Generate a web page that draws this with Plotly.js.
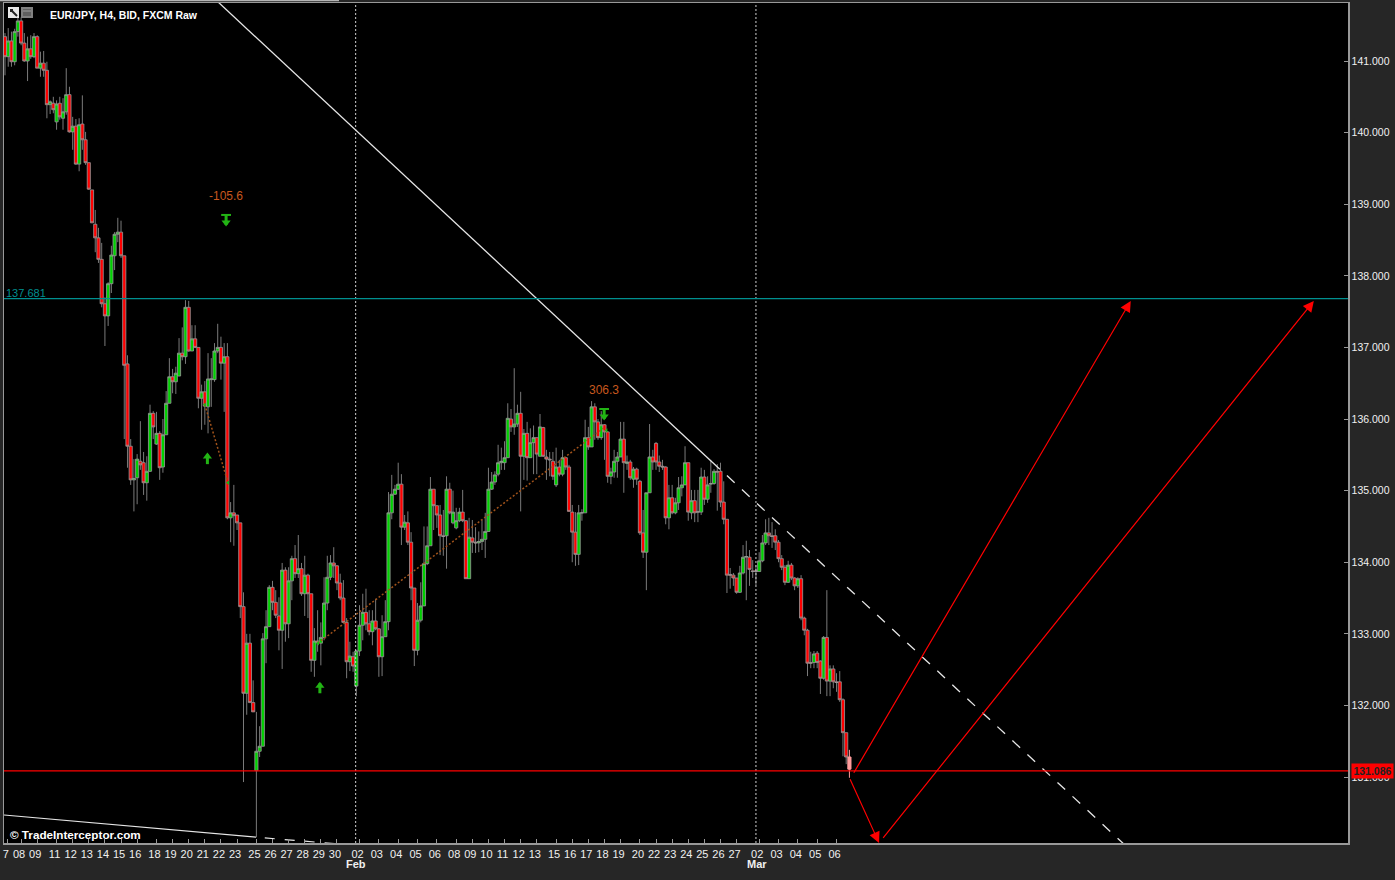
<!DOCTYPE html>
<html>
<head>
<meta charset="utf-8">
<script src="https://cdn.plot.ly/plotly-3.0.1.min.js"></script>
<style>
html,body{margin:0;padding:0;background:#262626;overflow:hidden}
</style>
</head>
<body>
<div id="chart" style="width:1395px;height:880px"></div>
<script>
// EUR/JPY H4 bars
var opens = [
141.34,141.06,141.28,140.99,141.41,141.56,141.25,141.00,141.17,141.06,
141.34,140.90,140.97,140.87,140.39,140.41,140.15,140.41,140.20,140.29,
140.53,140.01,140.09,139.56,140.12,139.90,139.58,139.20,138.72,138.53,
138.23,137.61,137.44,137.89,138.28,138.58,138.61,138.28,136.77,135.62,
135.15,135.18,135.41,135.39,135.11,135.27,136.08,135.65,135.80,135.33,
135.78,136.22,136.59,136.52,136.60,136.92,136.87,137.56,136.95,137.12,
137.00,136.29,136.38,136.17,136.55,136.55,136.95,137.00,136.78,136.87,
134.62,134.69,134.66,134.55,133.38,132.17,132.87,132.04,131.09,131.36,
131.43,132.93,133.10,133.65,133.44,133.25,133.05,133.89,133.14,133.74,
134.05,133.84,133.91,133.56,133.82,133.56,132.63,132.90,132.87,132.95,
133.43,133.79,133.99,133.95,133.71,133.50,133.16,132.61,132.68,132.27,
132.76,133.12,133.30,133.14,133.03,133.18,133.07,132.68,132.96,133.17,
134.69,134.95,135.02,135.09,134.49,134.55,134.28,133.64,132.77,133.19,
133.39,133.98,134.23,135.02,134.79,134.66,134.37,134.37,135.02,134.55,
134.48,134.58,134.70,134.58,133.77,134.34,134.28,134.27,134.29,134.32,
134.43,135.02,135.12,135.23,135.39,135.39,135.46,136.00,135.89,135.93,
136.08,135.48,135.80,135.46,135.67,135.74,135.48,135.88,135.47,135.44,
135.41,135.08,135.33,135.23,135.46,135.33,134.70,134.42,134.11,134.69,
134.69,135.74,135.61,136.17,135.96,135.74,135.92,135.82,135.20,135.26,
135.41,135.47,135.72,135.38,135.40,135.16,135.30,135.13,134.41,134.14,
134.97,135.47,135.66,135.40,135.34,135.33,134.62,134.90,134.69,134.83,
135.04,135.08,135.39,134.69,134.86,134.71,134.70,135.19,134.88,135.09,
135.10,135.27,135.27,134.84,134.60,133.83,133.82,133.78,133.58,133.85,
134.07,134.07,133.88,133.88,133.87,134.02,134.27,134.41,134.37,134.37,
134.28,134.05,133.93,133.72,133.96,133.78,133.67,133.77,133.22,133.05,
132.60,132.60,132.73,132.62,132.38,132.95,132.34,132.51,132.33,132.33,
132.08,131.62,131.28];
var highs = [
141.39,141.46,141.41,141.45,141.60,141.61,141.39,141.34,141.36,141.39,
141.36,141.13,141.14,140.99,140.45,140.50,140.45,140.50,140.48,140.90,
140.64,140.22,140.19,140.20,140.52,140.01,139.58,139.20,138.92,138.67,
138.46,137.70,137.91,138.42,138.61,138.81,138.77,138.28,136.89,135.72,
135.44,135.51,135.97,135.54,135.48,136.20,136.11,136.10,135.83,136.00,
136.39,136.85,136.70,136.73,137.13,137.28,137.66,137.65,137.31,137.31,
137.00,136.48,136.53,136.92,136.85,137.06,137.33,137.15,137.06,137.06,
134.84,135.08,134.66,134.55,133.58,133.00,133.00,132.35,131.91,131.71,
133.01,133.33,133.68,133.74,133.61,133.51,133.99,133.93,133.93,134.09,
134.24,134.38,133.99,134.09,133.84,133.56,133.08,133.33,133.16,133.79,
134.09,134.10,134.21,133.96,133.84,133.75,133.22,132.89,132.75,132.77,
133.40,133.56,133.63,133.33,133.33,133.49,133.08,133.26,133.47,134.98,
135.22,135.08,135.39,135.23,134.66,134.71,134.42,133.64,133.43,133.72,
134.50,134.50,135.19,135.02,134.79,134.80,134.73,135.20,135.11,135.00,
134.76,134.76,135.01,134.59,134.62,134.59,134.49,134.43,134.59,134.69,
135.32,135.26,135.27,135.64,135.60,135.69,136.22,136.14,136.71,136.20,
136.38,135.86,135.96,135.87,135.91,135.74,136.07,135.89,135.57,135.54,
135.54,135.60,135.43,135.57,135.47,135.36,134.80,134.70,134.80,134.74,
135.99,135.89,136.25,136.22,136.00,136.11,135.93,135.83,135.32,135.57,
135.54,135.96,135.96,135.49,135.43,135.33,135.32,135.15,134.73,134.97,
135.93,135.57,135.68,135.49,135.43,135.34,135.08,135.08,134.90,135.19,
135.20,135.62,135.39,135.01,135.01,135.01,135.32,135.29,135.20,135.43,
135.30,135.37,135.39,135.13,134.60,133.92,133.85,133.78,133.95,134.24,
134.30,134.17,134.03,133.96,134.14,134.38,134.60,134.62,134.56,134.46,
134.31,134.10,133.96,134.02,133.99,133.79,133.79,133.82,133.24,133.07,
132.75,132.76,132.76,132.63,132.97,133.61,132.56,132.56,132.45,132.48,
132.10,131.62,131.38];
var lows = [
140.80,140.92,140.92,140.94,141.34,141.22,140.99,140.72,141.03,141.04,
140.90,140.78,140.78,140.20,140.26,140.27,140.04,140.18,140.04,140.25,
140.00,139.76,139.55,139.46,139.76,139.55,139.20,138.74,138.33,138.18,
137.56,137.02,137.30,137.76,138.08,138.47,138.25,135.72,135.32,135.08,
134.71,134.81,135.29,134.94,134.86,135.26,135.72,135.64,135.15,135.25,
135.78,136.22,136.36,136.35,136.60,136.82,136.77,136.94,136.95,136.99,
136.15,135.85,135.92,135.80,136.17,136.52,136.92,136.55,136.10,134.60,
134.28,134.23,134.45,133.22,130.93,131.87,132.04,131.91,130.16,131.28,
131.43,132.59,133.10,133.33,133.22,132.77,132.51,132.89,132.94,133.47,
133.78,133.78,133.53,133.25,133.22,132.47,132.40,132.75,132.56,132.91,
133.33,133.75,133.78,133.61,133.47,133.16,132.38,132.48,132.47,132.13,
132.69,132.91,133.05,132.98,132.84,133.05,132.40,132.41,132.96,133.05,
134.60,134.94,135.01,134.24,134.45,134.24,133.47,132.55,132.70,133.16,
133.39,133.96,134.23,134.45,134.48,134.10,134.09,133.91,134.67,134.53,
134.46,134.56,134.56,133.77,133.77,134.13,134.13,134.14,134.17,134.06,
134.43,135.01,135.08,135.20,135.29,135.29,135.46,135.82,135.78,135.89,
134.71,135.15,135.14,135.46,135.23,135.23,135.48,135.47,135.15,135.20,
135.15,135.05,135.20,135.20,135.29,134.71,134.00,133.95,133.96,134.58,
134.69,135.57,135.61,135.71,135.71,135.71,135.43,135.11,135.09,135.18,
135.18,135.47,134.97,135.29,135.15,135.04,135.08,134.38,134.06,133.61,
134.97,135.29,135.29,135.26,135.29,134.53,134.46,134.67,134.67,134.73,
134.92,135.08,134.58,134.60,134.56,134.56,134.66,134.80,134.83,134.97,
135.08,134.72,134.77,134.53,133.57,133.63,133.67,133.56,133.57,133.83,
133.47,133.67,133.78,133.68,133.87,134.00,134.24,134.24,134.20,134.17,
134.00,133.89,133.68,133.71,133.75,133.61,133.64,133.19,132.98,132.41,
132.52,132.52,132.52,132.16,132.36,132.13,132.13,132.24,132.19,132.05,
131.29,131.18,130.99];
var closes = [
141.06,141.28,140.99,141.41,141.56,141.25,141.00,141.17,141.06,141.34,
140.90,140.97,140.87,140.39,140.43,140.32,140.40,140.22,140.29,140.53,
140.01,140.09,139.56,140.11,139.90,139.58,139.21,138.74,138.53,138.23,
137.61,137.44,137.89,138.29,138.58,138.61,138.28,136.75,135.62,135.15,
135.17,135.44,135.36,135.11,135.27,136.08,135.89,135.80,135.32,135.78,
136.22,136.59,136.52,136.64,136.92,136.87,137.56,136.95,137.12,137.00,
136.29,136.38,136.18,136.56,136.56,136.95,137.00,136.78,136.87,134.62,
134.69,134.65,134.55,133.38,132.17,132.87,132.04,131.91,131.36,131.43,
132.93,133.10,133.65,133.44,133.26,133.05,133.89,133.14,133.74,134.05,
133.84,133.91,133.56,133.82,133.56,132.63,132.90,132.88,132.95,133.43,
133.79,133.99,133.95,133.71,133.50,133.16,132.61,132.69,132.55,132.76,
133.12,133.30,133.14,133.03,133.18,133.07,132.68,132.96,133.17,134.69,
134.95,135.02,135.09,134.49,134.56,134.28,133.64,132.77,133.19,133.39,
133.98,134.23,135.02,134.79,134.66,134.37,134.36,135.02,134.69,134.70,
134.58,134.70,134.58,133.77,134.35,134.28,134.27,134.29,134.32,134.43,
135.02,135.12,135.22,135.39,135.41,135.46,136.01,135.89,135.93,136.08,
135.48,135.80,135.46,135.67,135.74,135.51,135.89,135.48,135.44,135.43,
135.20,135.33,135.23,135.46,135.33,134.71,134.42,134.11,134.69,134.69,
135.74,135.61,136.17,135.96,135.74,135.92,135.82,135.20,135.26,135.41,
135.47,135.72,135.39,135.40,135.18,135.30,135.16,134.41,134.14,134.97,
135.47,135.40,135.40,135.34,135.33,134.62,134.90,134.69,134.83,135.04,
135.08,135.39,134.70,134.86,134.69,134.70,135.19,134.88,135.08,135.10,
135.27,135.26,134.84,134.60,133.82,133.82,133.78,133.58,133.85,134.07,
134.08,133.90,133.87,133.87,134.02,134.27,134.41,134.37,134.36,134.28,
134.05,133.93,133.72,133.96,133.78,133.67,133.77,133.22,133.05,132.59,
132.59,132.72,132.60,132.38,132.95,132.34,132.51,132.33,132.32,132.08,
131.62,131.28,131.11];

// day labels under the axis and the bar each one sits on
var dayLabels = ['7','08','09','11','12','13','14','15','16','18','19','20','21','22','23','25','26','27','28','29','30',
  '02','03','04','05','06','08','09','10','11','12','13','15','16','17','18','19','20','22','23','24','25','26','27',
  '02','03','04','05','06'];
var dayBars = [0.9,5,10,16,21,26,31,36,41,47,52,57,62,67,72,78,83,88,93,98,103,
  110,116,122,128,134,140,145,150,155,160,165,171,176,181,186,191,197,202,207,212,217,222,227,
  234,240,246,252,258];
var monthLabels = ['Feb','Mar'];
var monthBars = [109,233.3];
var priceTicks = [131,132,133,134,135,136,137,138,139,140,141];
var monthStarts = [108.8,233];

var resistance = 137.681;
var lastPrice = 131.086;

// trend lines, [bar, price]
var trendBars = [65.5,221.8];
var trendPrices = [141.85,135.30];
var trendDashBars = [224,347.5];
var trendDashPrices = [135.21,130.05];
var lowLineBars = [-0.3,77.9];
var lowLinePrices = [130.47,130.16];
var lowDashBars = [80.6,102.4];
var lowDashPrices = [130.15,130.07];

// dotted zigzag legs
var legBars = [62,69.2,null,97.1,186.2];
var legPrices = [136.20,135.11,null,132.87,135.89];
var legEndBars = [62,69.2,97.1,186.6];
var legEndPrices = [136.20,135.11,132.87,135.84];

// signal arrows
var upBars = [62.8,97.7];
var upTips = [135.51,132.31];
var upTails = [135.37,132.17];
var downBars = [68.6,185.9];
var downTips = [138.71,136.00];
var downTails = [138.85,136.14];

// forecast arrows: tail bar, tail price, head bar, head price
var projTailBars = [263.1,262,272.1];
var projTailPrices = [131.04,130.99,130.13];
var projHeadBars = [349.3,271.2,406.1];
var projHeadPrices = [137.65,130.08,137.65];

var GREEN = '#22b414', GRAY = '#999999';

function stemXY(xs, a, b) {
    var x = [], y = [];
    for (var i = 0; i < xs.length; i++) {
        x.push(xs[i], xs[i], null);
        y.push(a[i], b[i], null);
    }
    return {x: x, y: y};
}
var upStem = stemXY(upBars, upTips, upTails);
var downStem = stemXY(downBars, downTips, downTails);

var barIndex = opens.map(function (v, i) { return i; });
var n = opens.length - 1;

var data = [
  {
    type: 'candlestick', x: barIndex.slice(0, n), open: opens.slice(0, n), high: highs.slice(0, n),
    low: lows.slice(0, n), close: closes.slice(0, n), whiskerwidth: 0, hoverinfo: 'skip',
    increasing: {line: {color: GRAY, width: 0.8}, fillcolor: '#00d000'},
    decreasing: {line: {color: GRAY, width: 0.8}, fillcolor: '#ff0000'}
  },
  {
    // bar still forming is drawn pale
    type: 'candlestick', x: [n], open: [opens[n]], high: [highs[n]], low: [lows[n]], close: [closes[n]],
    whiskerwidth: 0, hoverinfo: 'skip',
    increasing: {line: {color: '#ff9c9c', width: 1}, fillcolor: '#ff9c9c'},
    decreasing: {line: {color: '#ff9c9c', width: 1}, fillcolor: '#ff9c9c'}
  },
  {type: 'scatter', mode: 'lines', x: legBars, y: legPrices, hoverinfo: 'skip',
    line: {color: '#a0521a', width: 1.5, dash: '2px,2px'}},
  {type: 'scatter', mode: 'markers', x: legEndBars, y: legEndPrices, hoverinfo: 'skip',
    marker: {symbol: 'triangle-left', size: 4, color: GREEN}},
  {type: 'scatter', mode: 'lines', x: trendBars, y: trendPrices, hoverinfo: 'skip',
    line: {color: '#e6e6e6', width: 1.3}},
  {type: 'scatter', mode: 'lines', x: trendDashBars, y: trendDashPrices, hoverinfo: 'skip',
    line: {color: '#e6e6e6', width: 1.3, dash: '10.5px,10px'}},
  {type: 'scatter', mode: 'lines', x: lowLineBars, y: lowLinePrices, hoverinfo: 'skip',
    line: {color: '#e6e6e6', width: 1.2}},
  {type: 'scatter', mode: 'lines', x: lowDashBars, y: lowDashPrices, hoverinfo: 'skip',
    line: {color: '#e6e6e6', width: 1.2, dash: '10px,10px'}},
  {type: 'scatter', mode: 'lines', x: upStem.x.concat(downStem.x), y: upStem.y.concat(downStem.y), hoverinfo: 'skip',
    line: {color: GREEN, width: 3}},
  {type: 'scatter', mode: 'markers', x: upBars, y: upTips.map(function (v) { return v - 0.035; }), hoverinfo: 'skip',
    marker: {symbol: 'triangle-up', size: 8, color: GREEN}},
  {type: 'scatter', mode: 'markers', x: downBars, y: downTips.map(function (v) { return v + 0.035; }), hoverinfo: 'skip',
    marker: {symbol: 'triangle-down', size: 8, color: GREEN}},
  {type: 'scatter', mode: 'markers', x: downBars, y: downTails, hoverinfo: 'skip',
    marker: {symbol: 'line-ew', size: 7, line: {color: GREEN, width: 2}}}
];

// pixels of the page to paper fractions, for the bits that sit on the frame
function px(x) { return (x - 4) / 1344; }
function py(y) { return (843 - y) / 840; }
function pageRect(x0, y0, x1, y1, fill) {
    return {type: 'rect', xref: 'paper', yref: 'paper', x0: px(x0), x1: px(x1), y0: py(y1), y1: py(y0),
        fillcolor: fill, line: {width: 0}};
}
function pageLine(x0, y0, x1, y1, color, w) {
    return {type: 'line', xref: 'paper', yref: 'paper', x0: px(x0), x1: px(x1), y0: py(y0), y1: py(y1),
        line: {color: color, width: w}};
}

var shapes = [
  {type: 'line', xref: 'x', yref: 'y', x0: monthStarts[0], x1: monthStarts[0], y0: 130.079, y1: 141.81,
    line: {color: '#d0d0d0', width: 1, dash: '2px,2px'}, layer: 'above'},
  {type: 'line', xref: 'x', yref: 'y', x0: monthStarts[1], x1: monthStarts[1], y0: 130.079, y1: 141.81,
    line: {color: '#d0d0d0', width: 1, dash: '2px,2px'}, layer: 'above'},
  {type: 'line', xref: 'paper', yref: 'y', x0: 0, x1: 1, y0: resistance, y1: resistance,
    line: {color: '#009090', width: 1.2}},
  {type: 'line', xref: 'paper', yref: 'y', x0: 0, x1: 1, y0: lastPrice, y1: lastPrice,
    line: {color: '#ff0000', width: 1.3}},
  // scroll thumb along the top edge
  pageRect(0, 0, 339, 1.3, '#b4b4b4'),
  // toolbar buttons
  pageRect(8, 7, 19, 18, '#e8e8e8'),
  pageLine(11, 10, 17, 16, '#222222', 2),
  pageRect(10, 9, 13, 12, '#222222'),
  pageRect(21, 7, 33, 18, '#808080'),
  pageRect(23, 9, 31, 16, '#606060'),
  pageLine(23, 11, 31, 11, '#a0a0a0', 1)
];

var annotations = [
  {xref: 'paper', yref: 'paper', x: px(47.5), y: py(15), xanchor: 'left', yanchor: 'middle', showarrow: false,
    text: '<b>EUR/JPY, H4, BID, FXCM Raw</b>', font: {family: 'Liberation Sans', size: 10.5, color: '#ffffff'}},
  {xref: 'paper', yref: 'paper', x: px(8), y: py(834), xanchor: 'left', yanchor: 'middle', showarrow: false,
    text: '<b>© TradeInterceptor.com</b>', font: {family: 'Liberation Sans', size: 11.7, color: '#ffffff'}},
  {xref: 'paper', yref: 'y', x: px(3.5), y: resistance, xanchor: 'left', yanchor: 'bottom', showarrow: false, yshift: -2,
    text: '137.681', font: {family: 'Liberation Sans', size: 11, color: '#009090'}},
  {xref: 'x', yref: 'y', x: 68.6, y: 139.12, showarrow: false, text: '-105.6',
    font: {family: 'Liberation Sans', size: 12, color: '#c8581e'}},
  {xref: 'x', yref: 'y', x: 185.8, y: 136.40, showarrow: false, text: '306.3',
    font: {family: 'Liberation Sans', size: 12, color: '#c8581e'}},
  {xref: 'paper', yref: 'y', x: px(1351), y: lastPrice, xanchor: 'left', yanchor: 'middle', showarrow: false,
    text: '<b>131.086</b>', width: 41, height: 14, borderpad: 0, bgcolor: '#ff0000',
    font: {family: 'Liberation Sans', size: 10.5, color: '#222222'}}
];
for (var m = 0; m < monthLabels.length; m++) {
    annotations.push({xref: 'x', yref: 'paper', x: monthBars[m], y: py(864), showarrow: false, yanchor: 'middle',
        text: '<b>' + monthLabels[m] + '</b>', font: {family: 'Liberation Sans', size: 11, color: '#f0f0f0'}});
}
for (var a = 0; a < projHeadBars.length; a++) {
    annotations.push({xref: 'x', yref: 'y', axref: 'x', ayref: 'y', x: projHeadBars[a], y: projHeadPrices[a],
        ax: projTailBars[a], ay: projTailPrices[a], text: '', showarrow: true, arrowhead: 2, arrowsize: 1.8,
        arrowwidth: 1.2, arrowcolor: '#ff0000'});
}

var layout = {
    width: 1395, height: 880,
    margin: {l: 4, r: 47, t: 3, b: 37, pad: 0},
    paper_bgcolor: '#262626', plot_bgcolor: '#000000',
    showlegend: false, boxgap: 0.02, boxgroupgap: 0, dragmode: false,
    font: {family: 'Liberation Sans', size: 11, color: '#f0f0f0'},
    xaxis: {
        range: [-0.31, 416.7], rangeslider: {visible: false}, showgrid: false, zeroline: false,
        tickmode: 'array', tickvals: dayBars, ticktext: dayLabels, ticks: 'inside', ticklen: 4, tickcolor: GRAY,
        showline: true, linecolor: GRAY, linewidth: 1.5, mirror: true, ticklabelshift: -2,
        tickfont: {family: 'Liberation Sans', size: 11, color: '#f0f0f0'}
    },
    yaxis: {
        range: [130.079, 141.81], side: 'right', showgrid: false, zeroline: false,
        tickmode: 'array', tickvals: priceTicks, tickformat: '.3f', ticks: 'inside', ticklen: 4, tickcolor: GRAY,
        showline: true, linecolor: GRAY, linewidth: 1.5, mirror: true, ticklabelstandoff: 0,
        tickfont: {family: 'Liberation Sans', size: 10.5, color: '#f0f0f0'}
    },
    shapes: shapes,
    annotations: annotations
};

Plotly.newPlot('chart', data, layout, {displayModeBar: false, staticPlot: true});
</script>
</body>
</html>
